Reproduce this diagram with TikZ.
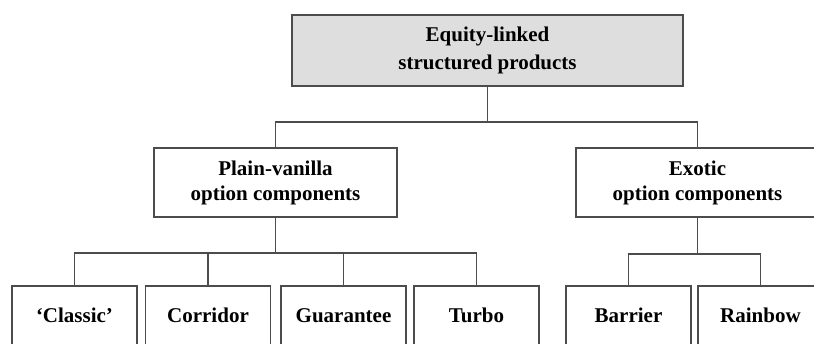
\documentclass[tikz,border=0pt]{standalone}
\usepackage{fontspec}
\setmainfont{Liberation Serif}
\usepackage{tikz}

\begin{document}
\begin{tikzpicture}[x=0.5pt,y=-0.5pt,
  box/.style={draw=black!70,line width=0.85pt,fill=white,align=center,
    font=\fontsize{10.5}{12.5}\selectfont\bfseries,inner sep=0pt},
  topbox/.style={box,fill=black!13,minimum width=195.5pt,minimum height=35.5pt,
    font=\fontsize{10.5}{14}\selectfont\bfseries},
  midbox/.style={box,minimum width=121.5pt,minimum height=34.5pt},
  leafbox/.style={box,minimum width=62.5pt,minimum height=31pt,
    text height=7.5pt,text depth=2.5pt},
  link/.style={draw=black!70,line width=0.85pt}]

\path[use as bounding box,clip] (0,0) rectangle (814,343);

%% boxes
\node[topbox] (equity) at (487.5,50.5) {Equity-linked\\structured products};
\node[midbox] (plain) at (275.5,182.5) {Plain-vanilla\\option components};
\node[midbox] (exotic) at (697.5,182.5) {Exotic\\option components};

\node[leafbox] (classic) at (74.5,317) {`Classic'};
\node[leafbox] (corridor) at (208,317) {Corridor};
\node[leafbox] (guarantee) at (343.5,317) {Guarantee};
\node[leafbox] (turbo) at (476.5,317) {Turbo};
\node[leafbox] (barrier) at (628.5,317) {Barrier};
\node[leafbox] (rainbow) at (760.5,317) {Rainbow};

%% links
\draw[link] (equity.south) -- ++(0,35) coordinate (ejoin);
\draw[link] (plain.south) -- ++(0,35) coordinate (pjoin);
\draw[link] (exotic.south) -- ++(0,36) coordinate (xjoin);
\foreach \c in {plain,exotic}
  \draw[link] (ejoin) -| (\c.north);
\foreach \c in {classic,corridor,guarantee,turbo}
  \draw[link] (pjoin) -| (\c.north);
\foreach \c in {barrier,rainbow}
  \draw[link] (xjoin) -| (\c.north);

\end{tikzpicture}
\end{document}
